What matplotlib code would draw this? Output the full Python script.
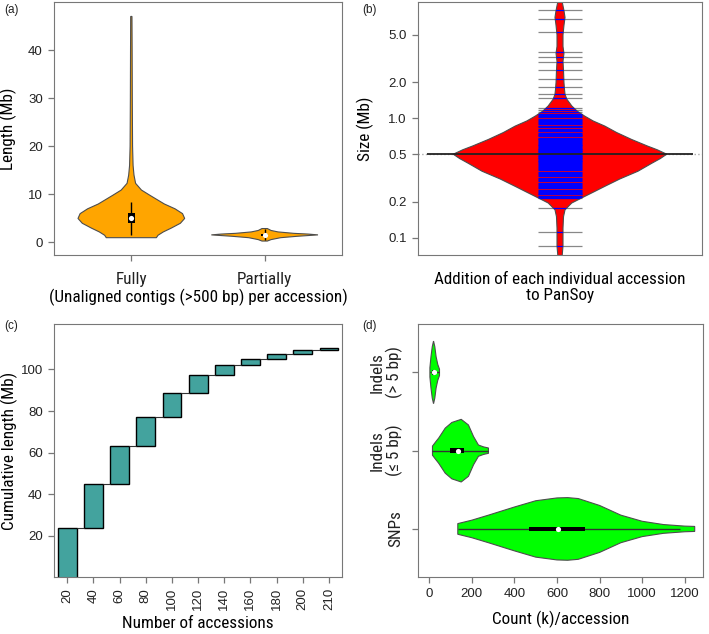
import numpy as np
import matplotlib.pyplot as plt

plt.rcParams['font.family'] = ['Liberation Sans', 'DejaVu Sans']
NARROW = dict(family=['Roboto Condensed', 'Liberation Sans Narrow', 'Liberation Sans', 'DejaVu Sans'],
              stretch='condensed', fontsize=12.3)

# ---- (a) unaligned contig length per accession (violin outlines)
fully_y = [1.0, 1.5, 2.2, 3.0, 4.0, 5.0, 6.0, 7.0, 8.0, 8.8, 9.8, 10.9, 12.3, 14, 16, 20, 30, 40, 47]
fully_w = [0.47, 0.5, 0.6, 0.75, 0.92, 1.0, 0.96, 0.82, 0.62, 0.5, 0.35, 0.19, 0.08, 0.05, 0.033, 0.023, 0.018, 0.015, 0.012]
fully_box = [4.07, 5.05, 6.03]
fully_whisk = [1.5, 8.4]
part_y = [0.3, 0.6, 1.0, 1.3, 1.58, 1.75, 1.9, 2.2, 2.5, 2.9]
part_w = [0.05, 0.12, 0.3, 0.62, 1.0, 0.82, 0.55, 0.25, 0.12, 0.05]
part_box = [1.4, 1.58, 1.8]
part_whisk = [0.5, 2.8]
a_labels = ['Fully', 'Partially']

# ---- (b) size added by each accession (bean outline + individual values)
bean_y = [0.07, 0.085, 0.1, 0.12, 0.15, 0.171, 0.195, 0.221, 0.245, 0.269, 0.31, 0.36, 0.42, 0.46, 0.5,
          0.545, 0.585, 0.665, 0.76, 0.86, 0.95, 1.045, 1.15, 1.27, 1.45, 1.59, 1.75, 2.0, 2.5, 3.0,
          3.5, 4.0, 5.0, 6.0, 7.0, 8.0, 9.5]
bean_w = [0.02, 0.028, 0.028, 0.028, 0.033, 0.047, 0.11, 0.23, 0.33, 0.42, 0.56, 0.73, 0.86, 0.94, 1.0,
          0.91, 0.82, 0.67, 0.53, 0.42, 0.31, 0.23, 0.16, 0.11, 0.063, 0.047, 0.042, 0.037, 0.033, 0.028,
          0.037, 0.028, 0.028, 0.037, 0.047, 0.037, 0.02]
bean_mean = 0.5
acc_sizes = [8.02, 6.82, 5.27, 3.57, 3.24, 2.98, 2.55, 2.13, 1.82, 1.59, 1.49, 1.23, 1.17, 1.12,
             1.09, 1.07, 1.04, 1.02, 0.99, 0.97, 0.955, 0.93, 0.91, 0.895, 0.87, 0.86, 0.84, 0.82,
             0.805, 0.79, 0.775, 0.76, 0.745, 0.73, 0.72, 0.705, 0.69, 0.675, 0.665, 0.652, 0.64,
             0.632, 0.62, 0.611, 0.6, 0.592, 0.583, 0.575, 0.566, 0.558, 0.55, 0.543, 0.535, 0.528,
             0.521, 0.514, 0.507, 0.5, 0.494, 0.487, 0.481, 0.474, 0.468, 0.461, 0.455, 0.448, 0.441,
             0.435, 0.428, 0.42, 0.413, 0.405, 0.398, 0.39, 0.382, 0.375, 0.366, 0.358, 0.35, 0.342,
             0.334, 0.327, 0.318, 0.311, 0.304, 0.296, 0.289, 0.282, 0.276, 0.27, 0.264, 0.258,
             0.252, 0.247, 0.241, 0.237, 0.234, 0.231, 0.225, 0.219, 0.214, 0.177, 0.111, 0.0857]

# ---- (c) cumulative length vs number of accessions
n_acc = ['20', '40', '60', '80', '100', '120', '140', '160', '180', '200', '210']
cum_len = [23.9, 45.0, 63.1, 77.2, 88.5, 97.1, 102.1, 105.0, 107.4, 109.1, 110.3]

# ---- (d) variants per accession (horizontal violins, bottom to top)
d_labels = ['SNPs', 'Indels\n(\u2264 5 bp)', 'Indels\n(> 5 bp)']
snp_x = [134, 200, 278, 400, 500, 600, 650, 700, 800, 900, 1000, 1100, 1200, 1247]
snp_w = [0.17, 0.28, 0.44, 0.7, 0.9, 0.99, 1.0, 0.97, 0.75, 0.44, 0.245, 0.14, 0.09, 0.08]
snp_box = [468, 606, 731]
snp_whisk = [134, 1180]
ind5_x = [15, 30, 44, 75, 106, 150, 184, 208, 231, 255, 278]
ind5_w = [0.145, 0.28, 0.4, 0.72, 0.9, 1.0, 0.82, 0.45, 0.18, 0.12, 0.085]
ind5_box = [98, 137, 165]
ind5_whisk = [15, 278]
indL_x = [3, 8, 14, 20, 26, 32, 40, 48]
indL_w = [0.15, 0.5, 0.82, 1.0, 0.82, 0.5, 0.25, 0.1]
indL_box = [14, 20, 30]
indL_whisk = [3, 48]

GRAY = '#777777'
EDGE = '#4d4d4d'


def style(ax):
    for s in ax.spines.values():
        s.set_color(GRAY)
    ax.tick_params(colors=GRAY, labelcolor='#222222', length=4.5, width=0.9, labelsize=9.5)


def violin(ax, pos, vals, widths, color, scale=0.4, horizontal=False):
    v = np.asarray(vals, float)
    w = np.asarray(widths, float) * scale
    a = np.concatenate([pos - w, (pos + w)[::-1]])
    b = np.concatenate([v, v[::-1]])
    if horizontal:
        return ax.fill(b, a, facecolor=color, edgecolor=EDGE, lw=0.8, zorder=2)[0]
    return ax.fill(a, b, facecolor=color, edgecolor=EDGE, lw=0.8, zorder=2)[0]


fig = plt.figure(figsize=(7.09, 6.34), dpi=100)
W, H = 709, 634


def add_ax(l, t, w, h):
    return fig.add_axes([l / W, 1 - (t + h) / H, w / W, h / H])


# (a)
ax = add_ax(54, 2, 288, 253)
style(ax)
for pos, y, w, box, wh in [(1, fully_y, fully_w, fully_box, fully_whisk),
                           (2, part_y, part_w, part_box, part_whisk)]:
    violin(ax, pos, y, w, '#FFA500')
    ax.vlines(pos, wh[0], wh[1], color='black', lw=1, zorder=3)
    ax.bar(pos, box[2] - box[0], bottom=box[0], width=0.055, color='black', zorder=4)
    ax.scatter([pos], [box[1]], s=14, color='white', zorder=5, lw=0)
ax.set_xlim(0.42, 2.58)
ax.set_ylim(-2.6, 50)
ax.set_yticks([0, 10, 20, 30, 40])
ax.set_xticks([1, 2])
ax.set_xticklabels(a_labels, **NARROW)
ax.tick_params(axis='x', pad=8)
ax.set_ylabel('Length (Mb)', **NARROW)
ax.yaxis.set_label_coords(-0.128, 0.5)
ax.set_xlabel('(Unaligned contigs (>500 bp) per accession)', labelpad=1, **NARROW)

# (b)
ax = add_ax(418, 2, 284, 253)
style(ax)
ax.set_yscale('log')
ax.axhline(bean_mean, color='#aaaaaa', ls=':', lw=1, zorder=1)
bean = violin(ax, 1.0, bean_y, bean_w, '#FF0000', scale=0.376)
# individual accessions: gray outside the bean, blue where they fall inside it
ax.hlines(acc_sizes, 1 - 0.076, 1 + 0.076, colors='#888888', lw=0.9, zorder=1.5)
blue = ax.hlines(acc_sizes, 1 - 0.076, 1 + 0.076, colors='#0000FF', lw=0.9, zorder=4)
blue.set_clip_path(bean)
ax.hlines(bean_mean, 1 - 0.47, 1 + 0.47, colors='#222222', lw=1.3, zorder=5)
ax.set_xlim(0.5, 1.5)
ax.set_ylim(0.0715, 9.43)
ax.set_yticks([0.1, 0.2, 0.5, 1.0, 2.0, 5.0])
ax.set_yticklabels(['0.1', '0.2', '0.5', '1.0', '2.0', '5.0'])
ax.minorticks_off()
ax.set_xticks([])
ax.set_ylabel('Size (Mb)', **NARROW)
ax.yaxis.set_label_coords(-0.155, 0.5)
ax.set_xlabel('Addition of each individual accession\nto PanSoy', labelpad=12, linespacing=1.15, **NARROW)

# (c)
ax = add_ax(54, 324, 288, 253)
style(ax)
pos = np.arange(1, len(cum_len) + 1)
bottoms = [0] + cum_len[:-1]
heights = [t - b for t, b in zip(cum_len, bottoms)]
ax.bar(pos, heights, bottom=bottoms, width=0.72, color='#43A39E', edgecolor='black', lw=1, zorder=2)
ax.hlines(cum_len[:-1], pos[:-1] + 0.36, pos[1:] - 0.36, colors='#333333', lw=0.8)
ax.set_xlim(0.49, 11.5)
ax.set_ylim(0.3, 121.8)
ax.set_yticks([20, 40, 60, 80, 100])
ax.set_xticks(pos)
ax.set_xticklabels(n_acc, rotation=90)
ax.set_ylabel('Cumulative length (Mb)', **NARROW)
ax.yaxis.set_label_coords(-0.125, 0.5)
ax.set_xlabel('Number of accessions', labelpad=4, **NARROW)

# (d)
ax = add_ax(418, 324, 285, 253)
style(ax)
for p, x, w, box, wh in [(1, snp_x, snp_w, snp_box, snp_whisk),
                         (2, ind5_x, ind5_w, ind5_box, ind5_whisk),
                         (3, indL_x, indL_w, indL_box, indL_whisk)]:
    violin(ax, p, x, w, '#00FF00', horizontal=True)
    ax.hlines(p, wh[0], wh[1], color='#333333', lw=1, zorder=3)
    ax.barh(p, box[2] - box[0], left=box[0], height=0.06, color='black', zorder=4)
    ax.scatter([box[1]], [p], s=14, color='white', zorder=5, lw=0)
ax.set_xlim(-53, 1286)
ax.set_ylim(0.386, 3.618)
ax.set_xticks([0, 200, 400, 600, 800, 1000, 1200])
ax.set_yticks([1, 2, 3])
ax.set_yticklabels(d_labels, rotation=90, va='center', multialignment='center',
                   linespacing=1.1, **NARROW)
ax.tick_params(axis='y', pad=6)
ax.set_xlabel('Count (k)/accession', labelpad=8, **NARROW)

for x, y, t in [(4, 4, '(a)'), (362, 4, '(b)'), (4, 320, '(c)'), (362, 320, '(d)')]:
    fig.text(x / W, 1 - y / H, t, fontsize=8.5, va='top', ha='left', color='#222222')

fig.savefig('out.png', dpi=100)
